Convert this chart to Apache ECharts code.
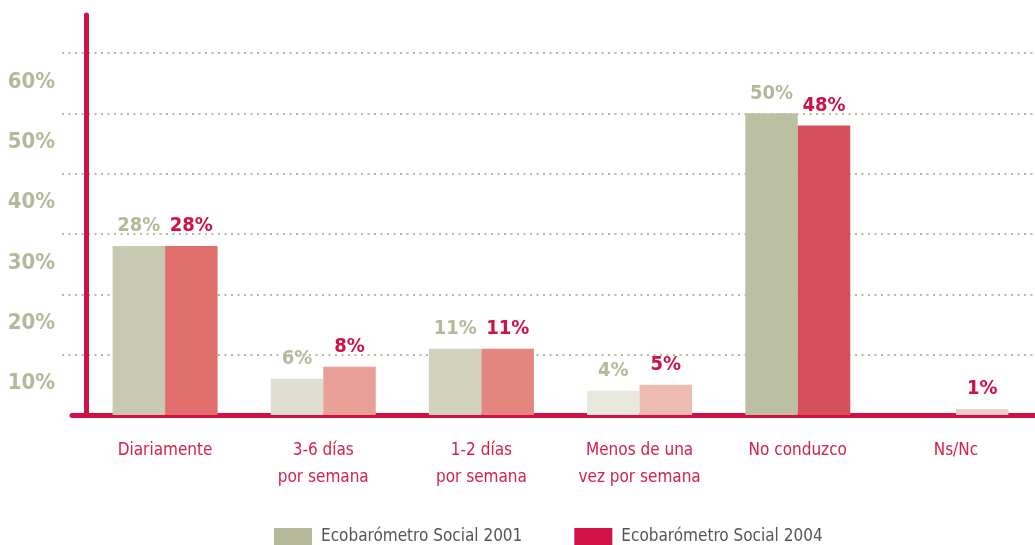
<!DOCTYPE html>
<html>
<head>
<meta charset="utf-8">
<script src="https://cdn.jsdelivr.net/npm/echarts@6/dist/echarts.min.js"></script>
<style>
  html, body { margin: 0; padding: 0; background: #fff; }
  #chart { width: 1035px; height: 545px; }
</style>
</head>
<body>
<div id="chart"></div>
<script>
// datos
var categorias = ['Diariamente', '3-6 días\npor semana', '1-2 días\npor semana', 'Menos de una\nvez por semana', 'No conduzco', 'Ns/Nc'];
var serie2001 = [28, 6, 11, 4, 50, null];
var serie2004 = [28, 8, 11, 5, 48, 1];
var nombres = ['Ecobarómetro Social 2001', 'Ecobarómetro Social 2004'];

// colores de cada barra
var colores2001 = ['#c8c9b1', '#dedfd0', '#d0d2bc', '#e8e8df', '#bcc0a3', '#e8e8df'];
var colores2004 = ['#df6e6c', '#e89f95', '#e38680', '#eebbb3', '#d4505a', '#f2cdc4'];

var FUENTE = "'Liberation Sans Narrow', 'DejaVu Sans Condensed', sans-serif";
var OLIVA = '#b5b99a';
var ROJO = '#cf1145';
var YMAX = 66.3;

var myChart = echarts.init(document.getElementById('chart'));

function conColores(valores, colores) {
    return valores.map(function(v, i) {
        return { value: v, itemStyle: { color: colores[i] } };
    });
}

var option = {
    animation: false,
    textStyle: { fontFamily: FUENTE },
    legend: {
        data: nombres,
        left: 274,
        top: 528,
        padding: 0,
        icon: 'rect',
        itemWidth: 38,
        itemHeight: 17,
        itemGap: 52,
        textStyle: { fontFamily: FUENTE, fontSize: 17, color: '#555', padding: [0, 0, 0, 4] }
    },
    grid: [
        // barras
        { left: 86, right: -1, top: 15, bottom: 130 },
        // líneas de puntos
        { left: 62, right: 0, top: 15, bottom: 130 },
        // línea base
        { left: 72, right: 0, top: 15, bottom: 130 }
    ],
    xAxis: [{
        type: 'category',
        gridIndex: 0,
        position: 'bottom',
        data: categorias,
        axisLine: { show: false },
        axisTick: {
            length: 25,
            interval: function(index) { return index > 0; },
            lineStyle: { color: '#d6204a', width: 1.5 }
        },
        axisLabel: {
            interval: 0,
            margin: 22,
            color: '#d6204a',
            fontFamily: FUENTE,
            fontSize: 17,
            lineHeight: 27
        }
    }, {
        type: 'category',
        gridIndex: 0,
        position: 'bottom',
        data: categorias,
        axisLine: { show: false },
        axisLabel: { show: false },
        axisTick: {
            inside: true,
            length: 20,
            interval: function(index) { return index > 0; },
            lineStyle: { color: '#d6204a', width: 1.5 }
        }
    }, {
        type: 'value',
        gridIndex: 1,
        show: false
    }, {
        type: 'category',
        gridIndex: 2,
        data: categorias,
        axisLine: { show: true, lineStyle: { color: ROJO, width: 5 } },
        axisTick: { show: false },
        axisLabel: { show: false }
    }],
    yAxis: [{
        type: 'value',
        gridIndex: 0,
        min: 0,
        max: YMAX,
        interval: 10,
        axisLine: { show: true, lineStyle: { color: ROJO, width: 5 } },
        axisTick: { show: false },
        splitLine: { show: false },
        axisLabel: {
            margin: 31,
            formatter: function(v) {
                return (v > 0 && v % 10 === 0) ? '{p|' + v + '%}' : '';
            },
            rich: {
                p: {
                    color: OLIVA,
                    fontFamily: FUENTE,
                    fontSize: 22,
                    fontWeight: 'bold',
                    padding: [58, 0, 0, 0]
                }
            }
        }
    }, {
        type: 'value',
        gridIndex: 1,
        min: 0,
        max: YMAX,
        interval: 10,
        axisLine: { show: false },
        axisTick: { show: false },
        axisLabel: { show: false },
        splitLine: {
            show: true,
            showMinLine: false,
            showMaxLine: false,
            lineStyle: { color: OLIVA, width: 2, type: [2, 4.5] }
        }
    }, {
        type: 'value',
        gridIndex: 2,
        min: 0,
        max: YMAX,
        show: false
    }],
    series: [{
        name: nombres[0],
        type: 'bar',
        xAxisIndex: 0,
        yAxisIndex: 0,
        barWidth: 52.5,
        barGap: '0%',
        itemStyle: { color: OLIVA },
        label: {
            show: true,
            position: 'top',
            distance: 10,
            color: OLIVA,
            fontFamily: FUENTE,
            fontSize: 20,
            fontWeight: 'bold',
            formatter: '{c}%'
        },
        data: conColores(serie2001, colores2001)
    }, {
        name: nombres[1],
        type: 'bar',
        xAxisIndex: 0,
        yAxisIndex: 0,
        barWidth: 52.5,
        barGap: '0%',
        itemStyle: { color: ROJO },
        label: {
            show: true,
            position: 'top',
            distance: 10,
            color: ROJO,
            fontFamily: FUENTE,
            fontSize: 20,
            fontWeight: 'bold',
            formatter: '{c}%'
        },
        data: conColores(serie2004, colores2004)
    }]
};

myChart.setOption(option);

window.addEventListener('resize', function() {
    myChart.resize();
});
</script>
</body>
</html>
